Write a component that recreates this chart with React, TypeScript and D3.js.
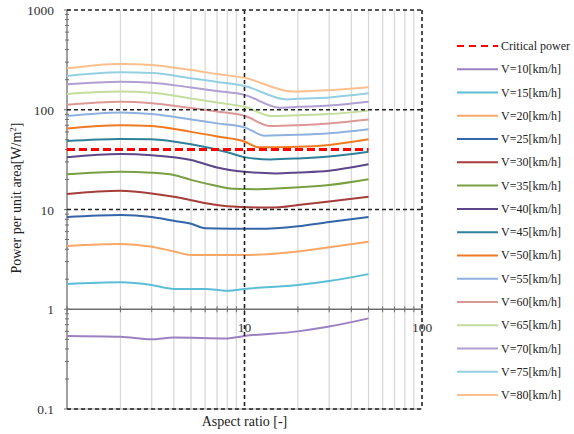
import React from 'react';
import * as d3 from 'd3';

type Pt = [number, number];

// readings per speed: [aspect ratio, power per unit area]
const critical: Pt[] = [[1, 40], [50, 40]];
const v10: Pt[] = [[1, 0.54], [2, 0.53], [3, 0.5], [4, 0.52], [8, 0.51], [10, 0.54], [20, 0.6], [30, 0.67], [50, 0.81]];
const v15: Pt[] = [[1, 1.79], [2, 1.86], [3, 1.75], [4, 1.6], [6, 1.6], [8, 1.53], [10, 1.6], [20, 1.75], [30, 1.92], [50, 2.25]];
const v20: Pt[] = [[1, 4.3], [2, 4.5], [3, 4.24], [4, 3.8], [5, 3.5], [10, 3.5], [20, 3.8], [30, 4.18], [50, 4.75]];
const v25: Pt[] = [[1, 8.4], [2, 8.8], [3, 8.4], [4, 7.7], [5, 7.2], [6, 6.5], [12, 6.4], [20, 6.8], [30, 7.5], [50, 8.4]];
const v30: Pt[] = [[1, 14.3], [2, 15.4], [3, 14.5], [4, 13.4], [5, 12.4], [7, 11.1], [8, 10.8], [12, 10.5], [15, 10.5], [20, 11.1], [30, 12], [50, 13.4]];
const v35: Pt[] = [[1, 22.5], [2, 23.9], [3, 23.4], [4, 22.2], [5, 19.8], [6.6, 17.6], [8.6, 16.1], [12, 16], [20, 16.7], [30, 17.6], [50, 20.1]];
const v40: Pt[] = [[1, 33.4], [2, 36], [3, 35], [5, 31.4], [7, 26.4], [10, 23.9], [15, 23], [20, 23.5], [30, 24.5], [50, 28.4]];
const v45: Pt[] = [[1, 48.6], [2, 51], [3, 50.6], [5, 45], [8, 37.5], [10, 33.5], [14, 31.8], [20, 32.5], [30, 34], [50, 38]];
const v50: Pt[] = [[1, 65], [2, 70], [3, 68.7], [5, 60], [7, 54], [10, 48], [12, 42], [20, 42.5], [30, 44.4], [50, 50.6]];
const v55: Pt[] = [[1, 86.5], [2, 94], [3, 90.6], [5, 80], [7, 73], [10, 66.6], [13, 55], [20, 56], [30, 58], [50, 63.7]];
const v60: Pt[] = [[1, 112], [2, 120], [3, 116], [5, 104], [7, 96], [10, 87], [14, 68.7], [20, 70], [30, 73], [50, 80]];
const v65: Pt[] = [[1, 144], [2, 152], [3, 148], [5, 130], [7, 118], [10, 107], [14.3, 86.5], [20, 88], [30, 90.6], [50, 98]];
const v70: Pt[] = [[1, 180], [2, 191], [3, 187], [5, 167], [7, 154], [10, 141], [15.8, 105], [20, 107], [30, 110], [50, 120]];
const v75: Pt[] = [[1, 218], [2, 237], [3, 233], [5, 207], [7, 190], [10, 173], [17.3, 127], [20, 129], [30, 133], [50, 146]];
const v80: Pt[] = [[1, 260], [2, 288], [3, 281], [5, 250], [7, 228], [10, 209], [18.7, 152], [30, 157], [50, 168]];

const seriesNames = ['V=10[km/h]', 'V=15[km/h]', 'V=20[km/h]', 'V=25[km/h]', 'V=30[km/h]', 'V=35[km/h]', 'V=40[km/h]', 'V=45[km/h]',
  'V=50[km/h]', 'V=55[km/h]', 'V=60[km/h]', 'V=65[km/h]', 'V=70[km/h]', 'V=75[km/h]', 'V=80[km/h]'];
const seriesData = [v10, v15, v20, v25, v30, v35, v40, v45, v50, v55, v60, v65, v70, v75, v80];
const seriesColors = ['#9b80c2', '#5bbdd6', '#f9a766', '#3465a8', '#a53e3a', '#78a042', '#5d4689', '#2f8199',
  '#f07a22', '#8fb1e0', '#dc9896', '#c4dc9c', '#b19ed2', '#95d0e2', '#fbc08e'];

const yTicks = [0.1, 1, 10, 100, 1000];
const yTickLabels = ['0.1', '1', '10', '100', '1000'];
const xTickLabels = [[10, '10'], [100, '100']] as [number, string][];

const W = 574;
const H = 434;
const FONT = '"Liberation Serif", "Times New Roman", serif';

export default function App() {
  const x = d3.scaleLog().domain([1, 100]).range([67, 422]);
  const y = d3.scaleLog().domain([0.1, 1000]).range([409, 10]);

  const line = d3.line<Pt>()
    .x(d => x(d[0]))
    .y(d => y(d[1]))
    .curve(d3.curveMonotoneX);

  const minorX = x.ticks().filter(t => ![1, 10, 100].includes(t));
  const minorY = y.ticks().filter(t => !yTicks.includes(t));

  const dash = '4,3';
  const [x0, x1] = x.range();
  const [yb, yt] = y.range();

  return (
    <svg width={W} height={H} style={{ position: 'absolute', left: 0, top: 0, background: '#fff' }}
      fontFamily={FONT}>
      {/* light vertical grid */}
      {minorX.map(t => (
        <line key={'gx' + t} x1={x(t)} x2={x(t)} y1={yt} y2={yb} stroke="#d9d9d9" strokeWidth={1.3} />
      ))}

      {/* left axis */}
      <line x1={x0} x2={x0} y1={yt} y2={yb} stroke="#6e6e6e" strokeWidth={1.3} />
      {minorY.map(t => (
        <line key={'my' + t} x1={x0 - 2} x2={x0 + 2} y1={y(t)} y2={y(t)} stroke="#6e6e6e" strokeWidth={1} />
      ))}
      {yTicks.map(t => (
        <line key={'my' + t} x1={x0 - 3} x2={x0 + 3} y1={y(t)} y2={y(t)} stroke="#6e6e6e" strokeWidth={1} />
      ))}
      {yTicks.map((t, i) => (
        <text key={'yl' + t} x={54} y={y(t) + 5} textAnchor="end" fontSize={13.5} fill="#333">{yTickLabels[i]}</text>
      ))}

      {/* horizontal axis at y=1 */}
      <line x1={x0} x2={x1} y1={y(1)} y2={y(1)} stroke="#6e6e6e" strokeWidth={1.3} />
      {x.ticks().map(t => (
        <line key={'tx' + t} x1={x(t)} x2={x(t)} y1={y(1) - 3} y2={y(1) + 3} stroke="#6e6e6e" strokeWidth={1} />
      ))}
      {xTickLabels.map(([v, s]) => (
        <text key={'xl' + v} x={x(v)} y={y(1) + 23} textAnchor="middle" fontSize={13.5} fill="#333">{s}</text>
      ))}

      {/* bottom border */}
      <line x1={x0} x2={x1} y1={yb} y2={yb} stroke="#9a9a9a" strokeWidth={1} />

      {/* series */}
      {seriesData.map((d, i) => (
        <path key={seriesNames[i]} d={line(d) ?? ''} fill="none" stroke={seriesColors[i]} strokeWidth={2} />
      ))}
      <path d={line(critical) ?? ''} fill="none" stroke="#ff0000" strokeWidth={3} strokeDasharray="8,4" />

      {/* dashed decade lines */}
      {[10, 100, 1000].map(t => (
        <line key={'dy' + t} x1={x0} x2={x1} y1={y(t)} y2={y(t)} stroke="#222" strokeWidth={1.6} strokeDasharray={dash} />
      ))}
      <line x1={x0} x2={x1} y1={yb} y2={yb} stroke="#222" strokeWidth={1.6} strokeDasharray={dash} />
      {[10, 100].map(t => (
        <line key={'dx' + t} x1={x(t)} x2={x(t)} y1={yt} y2={yb} stroke="#222" strokeWidth={1.6} strokeDasharray={dash} />
      ))}

      {/* axis titles */}
      <text x={(x0 + x1) / 2} y={426} textAnchor="middle" fontSize={14} fill="#222">Aspect ratio [-]</text>
      <text transform="translate(21,198) rotate(-90)" textAnchor="middle" fontSize={14} fill="#222">
        Power per unit area[W/m<tspan dy={-5} fontSize={9}>2</tspan><tspan dy={5}>]</tspan>
      </text>

      {/* legend */}
      <g>
        <line x1={457} x2={498} y1={46} y2={46} stroke="#ff0000" strokeWidth={2.2} strokeDasharray="7,5" />
        <text x={501} y={50} fontSize={12} fill="#222">Critical power</text>
        {seriesNames.map((n, i) => {
          const ly = 46 + (i + 1) * 23.27;
          return (
            <g key={'lg' + n}>
              <line x1={457} x2={498} y1={ly} y2={ly} stroke={seriesColors[i]} strokeWidth={2} />
              <text x={501} y={ly + 4} fontSize={12} fill="#222">{n}</text>
            </g>
          );
        })}
      </g>
    </svg>
  );
}
